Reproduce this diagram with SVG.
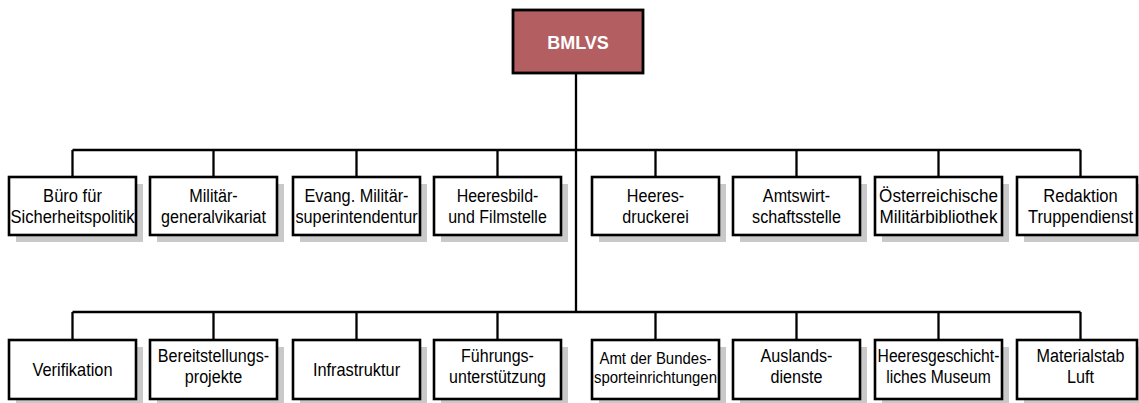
<svg xmlns="http://www.w3.org/2000/svg" width="1139" height="403" viewBox="0 0 1139 403">
<style>
.box{fill:#fff;stroke:#000;stroke-width:2.6}
.sh{fill:#c9c9c9}
.t{font-family:"Liberation Sans",Arial,sans-serif;font-size:18.8px;fill:#000;text-anchor:middle}
.con{stroke:#000;stroke-width:2.3;fill:none}
</style>
<rect width="1139" height="403" fill="#fff"/>
<g id="connectors">
<path class="con" d="M576,73V312M72.5,150H1080.5M72.5,312H1080.5"/>
<path class="con" d="M72.5,150V177M213.5,150V177M356.5,150V177M497.5,150V177M655.5,150V177M796.5,150V177M938.5,150V177M1080.5,150V177"/>
<path class="con" d="M72.5,312V340M213.5,312V340M356.5,312V340M497.5,312V340M655.5,312V340M796.5,312V340M938.5,312V340M1080.5,312V340"/>
</g>
<g id="bmlvs">
<rect x="513" y="10" width="130" height="63" fill="#b35e61" stroke="#000" stroke-width="2.8"/>
<text x="578" y="49" font-family="Liberation Sans,Arial,sans-serif" font-weight="bold" font-size="18" fill="#fff" text-anchor="middle">BMLVS</text>
</g>
<g id="n1"><rect class="sh" x="16" y="184" width="127" height="58"/><rect class="box" x="9" y="177" width="127" height="58"/><text class="t" transform="matrix(0.88 0 0 1 72.5 0)"><tspan x="0" y="202.5">Büro für</tspan><tspan x="0" y="223.5">Sicherheitspolitik</tspan></text></g>
<g id="n2"><rect class="sh" x="157" y="184" width="127" height="58"/><rect class="box" x="150" y="177" width="127" height="58"/><text class="t" transform="matrix(0.86 0 0 1 213.5 0)"><tspan x="0" y="202.5">Militär-</tspan><tspan x="0" y="223.5">generalvikariat</tspan></text></g>
<g id="n3"><rect class="sh" x="300" y="184" width="127" height="58"/><rect class="box" x="293" y="177" width="127" height="58"/><text class="t" style="font-size:18px" transform="matrix(0.905 0 0 1 356.5 0)"><tspan x="0" y="202.5">Evang. Militär-</tspan><tspan x="0" y="223.5">superintendentur</tspan></text></g>
<g id="n4"><rect class="sh" x="441" y="184" width="127" height="58"/><rect class="box" x="434" y="177" width="127" height="58"/><text class="t" transform="matrix(0.85 0 0 1 497.5 0)"><tspan x="0" y="202.5">Heeresbild-</tspan><tspan x="0" y="223.5">und Filmstelle</tspan></text></g>
<g id="n5"><rect class="sh" x="599" y="184" width="127" height="58"/><rect class="box" x="592" y="177" width="127" height="58"/><text class="t" transform="matrix(0.86 0 0 1 655.5 0)"><tspan x="0" y="202.5">Heeres-</tspan><tspan x="0" y="223.5">druckerei</tspan></text></g>
<g id="n6"><rect class="sh" x="740" y="184" width="127" height="58"/><rect class="box" x="733" y="177" width="127" height="58"/><text class="t" transform="matrix(0.86 0 0 1 796.5 0)"><tspan x="0" y="202.5">Amtswirt-</tspan><tspan x="0" y="223.5">schaftsstelle</tspan></text></g>
<g id="n7"><rect class="sh" x="882" y="184" width="127" height="58"/><rect class="box" x="875" y="177" width="127" height="58"/><text class="t" transform="matrix(0.91 0 0 1 938.5 0)"><tspan x="0" y="202.5">Österreichische</tspan><tspan x="0" y="223.5">Militärbibliothek</tspan></text></g>
<g id="n8"><rect class="sh" x="1024" y="184" width="127" height="58"/><rect class="box" x="1017" y="177" width="120" height="58"/><text class="t" transform="matrix(0.88 0 0 1 1080.5 0)"><tspan x="0" y="202.5">Redaktion</tspan><tspan x="0" y="223.5">Truppendienst</tspan></text></g>
<g id="n9"><rect class="sh" x="16" y="347" width="127" height="59"/><rect class="box" x="9" y="340" width="127" height="59"/><text class="t" transform="matrix(0.87 0 0 1 72.5 0)"><tspan x="0" y="376">Verifikation</tspan></text></g>
<g id="n10"><rect class="sh" x="157" y="347" width="127" height="59"/><rect class="box" x="150" y="340" width="127" height="59"/><text class="t" transform="matrix(0.86 0 0 1 213.5 0)"><tspan x="0" y="362.5">Bereitstellungs-</tspan><tspan x="0" y="383.5">projekte</tspan></text></g>
<g id="n11"><rect class="sh" x="300" y="347" width="127" height="59"/><rect class="box" x="293" y="340" width="127" height="59"/><text class="t" transform="matrix(0.87 0 0 1 356.5 0)"><tspan x="0" y="376">Infrastruktur</tspan></text></g>
<g id="n12"><rect class="sh" x="441" y="347" width="127" height="59"/><rect class="box" x="434" y="340" width="127" height="59"/><text class="t" transform="matrix(0.85 0 0 1 497.5 0)"><tspan x="0" y="362.5">Führungs-</tspan><tspan x="0" y="383.5">unterstützung</tspan></text></g>
<g id="n13"><rect class="sh" x="599" y="347" width="127" height="59"/><rect class="box" x="592" y="340" width="127" height="59"/><text class="t" style="font-size:17px" transform="matrix(0.88 0 0 1 655.5 0)"><tspan x="0" y="364.5">Amt der Bundes-</tspan><tspan x="0" y="383.5">sporteinrichtungen</tspan></text></g>
<g id="n14"><rect class="sh" x="740" y="347" width="127" height="59"/><rect class="box" x="733" y="340" width="127" height="59"/><text class="t" transform="matrix(0.86 0 0 1 796.5 0)"><tspan x="0" y="362.5">Auslands-</tspan><tspan x="0" y="383.5">dienste</tspan></text></g>
<g id="n15"><rect class="sh" x="882" y="347" width="127" height="59"/><rect class="box" x="875" y="340" width="127" height="59"/><text class="t" style="font-size:18px" transform="matrix(0.87 0 0 1 938.5 0)"><tspan x="0" y="362.5">Heeresgeschicht-</tspan><tspan x="0" y="383">liches Museum</tspan></text></g>
<g id="n16"><rect class="sh" x="1024" y="347" width="127" height="59"/><rect class="box" x="1017" y="340" width="120" height="59"/><text class="t" transform="matrix(0.86 0 0 1 1080.5 0)"><tspan x="0" y="362.5">Materialstab</tspan><tspan x="0" y="383.5">Luft</tspan></text></g>
</svg>
